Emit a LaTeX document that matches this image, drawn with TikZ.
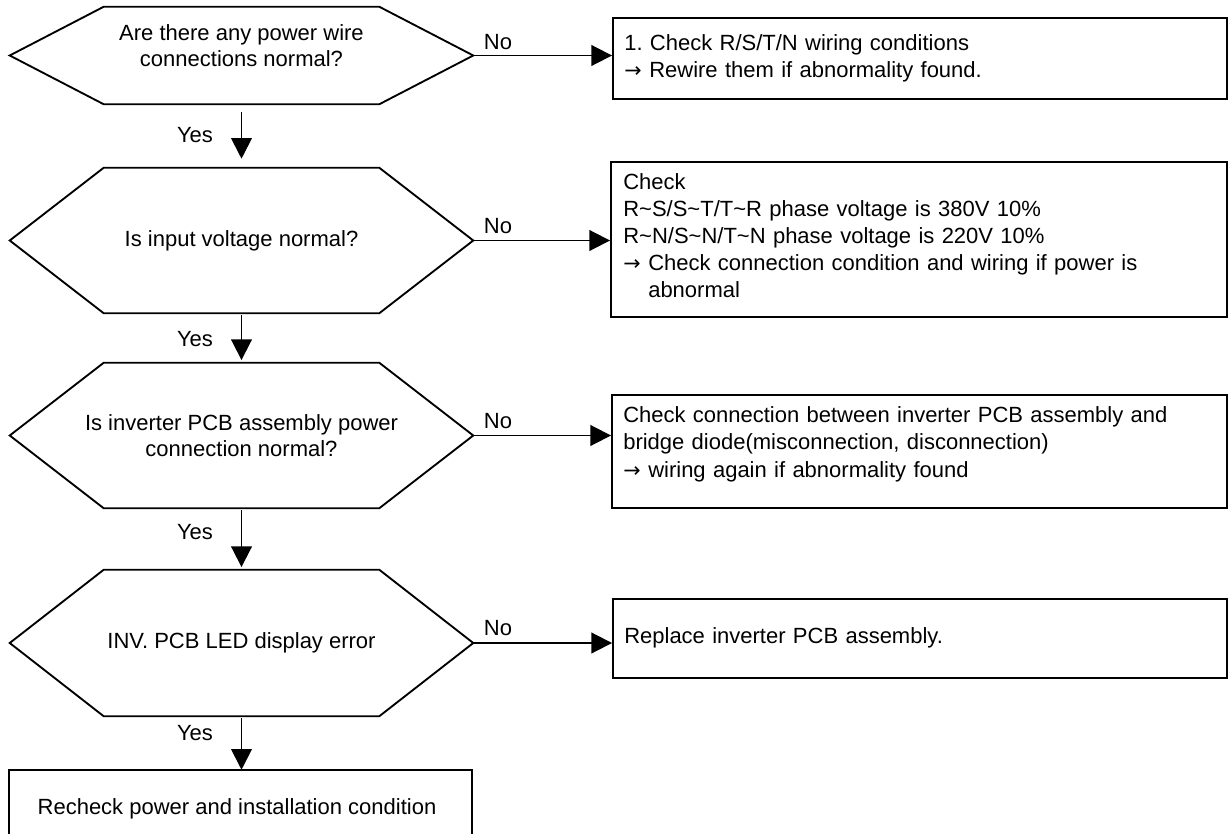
\documentclass[tikz,border=0pt]{standalone}
\usepackage{fontspec}
\setmainfont{Liberation Sans}
\newfontfamily\arrowfont{DejaVu Sans}
\usetikzlibrary{arrows.meta}
\frenchspacing
\newcommand\hexfont{\fontsize{16.5pt}{19.5pt}\selectfont}
\newcommand\boxfont{\fontsize{16.5pt}{20.25pt}\selectfont}
\newcommand\arw{\makebox[18.75pt][l]{\arrowfont\fontsize{15.5pt}{15.5pt}\selectfont →}}
\newcommand\hexoutline[1]{\draw[edge] (#1.west) -- ([xshift=70.5pt]#1.north west) -- ([xshift=-70.5pt]#1.north east) -- (#1.east) -- ([xshift=-70.5pt]#1.south east) -- ([xshift=70.5pt]#1.south west) -- cycle;}
\begin{document}
\begin{tikzpicture}[x=0.75pt,y=-0.75pt,
  edge/.style={line width=1.4pt, line join=miter},
  hexnode/.style={inner sep=0pt, minimum width=347.25pt, align=center, font=\hexfont},
  boxnode/.style={draw, line width=1.4pt, inner sep=0pt},
  boxtext/.style={inner sep=0pt, anchor=base west, text width=450pt, align=left, font=\boxfont},
  lbl/.style={inner sep=0pt, anchor=base, font=\hexfont},
  arr/.style={line width=1.4pt, -{Triangle[length=15.5pt,width=15.5pt]}}]
\useasboundingbox (0,0) rectangle (1229,834);

% decision hexagons
\node[hexnode, minimum height=72.75pt] (h1) at (241.5,55.5) {};
\node[hexnode] (h1t) at (241.5,46) {Are there any power wire\\connections normal?};
\node[hexnode, minimum height=108.75pt] (h2) at (241.5,240.5) {Is input voltage normal?};
\node[hexnode, minimum height=108.75pt] (h3) at (241.5,435.5) {Is inverter PCB assembly power\\connection normal?};
\node[hexnode, minimum height=109.5pt] (h4) at (241.5,643) {INV. PCB LED display error};
\hexoutline{h1}
\hexoutline{h2}
\hexoutline{h3}
\hexoutline{h4}

% action boxes
\node[boxnode, minimum width=460.5pt, minimum height=60.75pt] (b1) at (920,58.5) {};
\node[boxnode, minimum width=462pt, minimum height=116.25pt] (b2) at (919,239.5) {};
\node[boxnode, minimum width=461.25pt, minimum height=84.75pt] (b3) at (919.5,451.5) {};
\node[boxnode, minimum width=460.5pt, minimum height=59.25pt] (b4) at (920,638.5) {};
\node[inner sep=0pt, minimum width=347.25pt, minimum height=48pt] (b5) at (240.5,802) {};
\draw[edge] (b5.south west) -- (b5.north west) -- (b5.north east) -- (b5.south east);

\node[boxtext] (b1t) at (624,51) {1. Check R/S/T/N wiring conditions\\\arw Rewire them if abnormality found.};
\node[boxtext] (b2t) at (623,190) {Check\\R\textasciitilde S/S\textasciitilde T/T\textasciitilde R phase voltage is 380V 10\%\\R\textasciitilde N/S\textasciitilde N/T\textasciitilde N phase voltage is 220V 10\%\\\arw Check connection condition and wiring if power is\\\hspace*{18.75pt}abnormal};
\node[boxtext] (b3t) at (623,423) {Check connection between inverter PCB assembly and\\bridge diode(misconnection, disconnection)\\\arw wiring again if abnormality found};
\node[boxtext] (b4t) at (624,643) {Replace inverter PCB assembly.};
\node[lbl] (b5t) at (237,814) {Recheck power and installation condition};

% No connectors
\draw[arr] (h1.east) -- (h1.east -| b1.west);
\draw[arr] (h2.east) -- (h2.east -| b2.west);
\draw[arr] (h3.east) -- (h3.east -| b3.west);
\draw[arr] (h4.east) -- (h4.east -| b4.west);
\node[lbl] (n1) at (498,50) {No};
\node[lbl] (n2) at (498,234) {No};
\node[lbl] (n3) at (498,429) {No};
\node[lbl] (n4) at (498,635) {No};

% Yes connectors
\draw[arr, shorten <=6pt, shorten >=6.75pt] (h1.south) -- (h2.north);
\draw[arr, shorten <=1.5pt, shorten >=2pt] (h2.south) -- (h3.north);
\draw[arr, shorten <=1.5pt, shorten >=2pt] (h3.south) -- (h4.north);
\draw[arr, shorten <=1.5pt] (h4.south) -- (h4.south |- b5.north);
\node[lbl] (y1) at (195,143) {Yes};
\node[lbl] (y2) at (195,347) {Yes};
\node[lbl] (y3) at (195,539) {Yes};
\node[lbl] (y4) at (195,740) {Yes};
\end{tikzpicture}
\end{document}
